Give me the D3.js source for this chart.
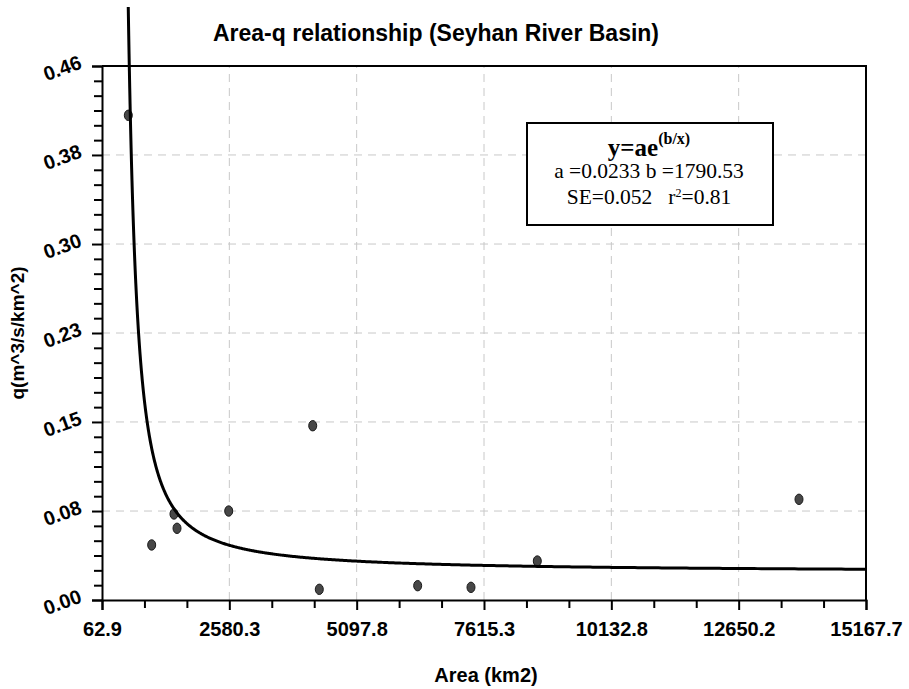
<!DOCTYPE html>
<html>
<head>
<meta charset="utf-8">
<script src="https://cdn.jsdelivr.net/npm/d3@7"></script>
<style>
  html, body { margin: 0; padding: 0; background: #ffffff; }
  svg { display: block; }
</style>
</head>
<body>
<svg id="chart" width="909" height="689"></svg>
<script>
// ---- data ----
const areas = [583, 1045, 1486, 1546, 2568, 4229, 4359, 6304, 7358, 8669, 13843];
const qValues = [0.413, 0.0469, 0.0733, 0.0611, 0.0758, 0.1485, 0.0091, 0.0122, 0.0108, 0.0332, 0.0858];

const xTickValues = [62.9, 2580.3, 5097.8, 7615.3, 10132.8, 12650.2, 15167.7];
const xTickLabels = ["62.9", "2580.3", "5097.8", "7615.3", "10132.8", "12650.2", "15167.7"];
const yTickValues = [0, 0.0758, 0.1517, 0.2275, 0.3033, 0.3792, 0.455];
const yTickLabels = ["0.00", "0.08", "0.15", "0.23", "0.30", "0.38", "0.46"];

// fitted model parameters (from the legend)
const fitA = 0.0233;
const fitB = 1790.53;

const titleText = "Area-q relationship (Seyhan River Basin)";
const xTitle = "Area (km2)";
const yTitle = "q(m^3/s/km^2)";

// ---- layout ----
const W = 909, H = 689;
const M = { left: 102, right: 43, top: 66, bottom: 89 };
const svg = d3.select("#chart");
svg.append("rect").attr("width", W).attr("height", H).attr("fill", "#fff");

const x = d3.scaleLinear().domain([xTickValues[0], xTickValues[xTickValues.length - 1]]).range([M.left, W - M.right]);
const y = d3.scaleLinear().domain([yTickValues[0], yTickValues[yTickValues.length - 1]]).range([H - M.bottom, M.top]);

const sans = "'Liberation Sans', Arial, sans-serif";
const serif = "'Liberation Serif', 'Times New Roman', serif";

// gridlines
const grid = svg.append("g").attr("stroke", "#c8c8c8").attr("stroke-width", 1).attr("stroke-dasharray", "8,6");
xTickValues.slice(1, -1).forEach(v => {
  grid.append("line").attr("x1", x(v)).attr("x2", x(v)).attr("y1", y.range()[0]).attr("y2", y.range()[1]);
});
yTickValues.slice(1, -1).forEach(v => {
  grid.append("line").attr("y1", y(v)).attr("y2", y(v)).attr("x1", x.range()[0]).attr("x2", x.range()[1]);
});

// minor tick values
const xMinor = [];
for (let i = 0; i < xTickValues.length - 1; i++) {
  const a = xTickValues[i], b = xTickValues[i + 1];
  for (let k = 1; k < 3; k++) xMinor.push(a + (b - a) * k / 3);
}
const yMinor = [];
for (let i = 0; i < yTickValues.length - 1; i++) {
  const a = yTickValues[i], b = yTickValues[i + 1];
  for (let k = 1; k < 6; k++) yMinor.push(a + (b - a) * k / 6);
}

// axes
const xAxis = d3.axisBottom(x).tickValues(xTickValues).tickFormat((d, i) => xTickLabels[i]).tickSizeOuter(0).tickSize(10).tickPadding(12);
const gx = svg.append("g").attr("transform", `translate(0,${y.range()[0]})`).call(xAxis);
gx.select(".domain").attr("stroke", "#000").attr("stroke-width", 2);
gx.selectAll(".tick line").attr("stroke", "#000").attr("stroke-width", 2);
gx.selectAll(".tick text").attr("font-family", sans).attr("font-weight", "bold").attr("font-size", 20).attr("fill", "#000");

const gxm = svg.append("g").attr("transform", `translate(0,${y.range()[0]})`)
  .call(d3.axisBottom(x).tickValues(xMinor).tickFormat("").tickSizeOuter(0).tickSize(8));
gxm.select(".domain").remove();
gxm.selectAll(".tick line").attr("stroke", "#000").attr("stroke-width", 2);

const yAxis = d3.axisLeft(y).tickValues(yTickValues).tickFormat("").tickSizeOuter(0).tickSize(10);
const gy = svg.append("g").attr("transform", `translate(${x.range()[0]},0)`).call(yAxis);
gy.select(".domain").attr("stroke", "#000").attr("stroke-width", 2);
gy.selectAll(".tick line").attr("stroke", "#000").attr("stroke-width", 2);

const gym = svg.append("g").attr("transform", `translate(${x.range()[0]},0)`)
  .call(d3.axisLeft(y).tickValues(yMinor).tickFormat("").tickSizeOuter(0).tickSize(8));
gym.select(".domain").remove();
gym.selectAll(".tick line").attr("stroke", "#000").attr("stroke-width", 2);

// slanted y tick labels
svg.append("g").selectAll("text").data(yTickValues).join("text")
  .attr("transform", (d) => `translate(${x.range()[0] - 19},${y(d) + 2}) rotate(-20)`)
  .attr("text-anchor", "end")
  .attr("font-family", sans).attr("font-weight", "bold").attr("font-size", 20).attr("fill", "#000")
  .text((d, i) => yTickLabels[i]);

// plot frame (top and right)
svg.append("path")
  .attr("d", `M${x.range()[0]},${y.range()[1]} H${x.range()[1]} V${y.range()[0]}`)
  .attr("fill", "none").attr("stroke", "#000").attr("stroke-width", 2);

// data points
svg.append("g").selectAll("ellipse").data(areas).join("ellipse")
  .attr("cx", (d) => x(d)).attr("cy", (d, i) => y(qValues[i]))
  .attr("rx", 4).attr("ry", 5.2)
  .attr("fill", "#474747").attr("stroke", "#1a1a1a").attr("stroke-width", 1);

// fitted curve y = a*exp(b/x), drawn from image top edge to right border
const fit = (v) => fitA * Math.exp(fitB / v);
const yTopVal = y.invert(7);
const xStart = fitB / Math.log(yTopVal / fitA);
const xEnd = x.domain()[1];
const curvePts = [];
const N = 600;
for (let i = 0; i <= N; i++) {
  const t = i / N;
  const v = xStart * Math.pow(xEnd / xStart, t);
  curvePts.push([v, fit(v)]);
}
svg.append("path").datum(curvePts)
  .attr("d", d3.line().x(d => x(d[0])).y(d => y(d[1])))
  .attr("fill", "none").attr("stroke", "#000").attr("stroke-width", 3);

// title
svg.append("text").attr("x", 436).attr("y", 41).attr("text-anchor", "middle")
  .attr("font-family", sans).attr("font-weight", "bold").attr("font-size", 23).attr("fill", "#000")
  .text(titleText);

// axis titles
svg.append("text").attr("x", 486).attr("y", 682).attr("text-anchor", "middle")
  .attr("font-family", sans).attr("font-weight", "bold").attr("font-size", 20).attr("fill", "#000")
  .text(xTitle);
svg.append("text").attr("transform", "translate(24,333) rotate(-90)").attr("text-anchor", "middle")
  .attr("font-family", sans).attr("font-weight", "bold").attr("font-size", 19).attr("fill", "#000")
  .text(yTitle);

// legend box
const lg = svg.append("g");
lg.append("rect").attr("x", 527).attr("y", 123).attr("width", 246).attr("height", 102)
  .attr("fill", "#fff").attr("stroke", "#000").attr("stroke-width", 2);
const l1 = lg.append("text").attr("x", 649).attr("y", 156).attr("text-anchor", "middle")
  .attr("font-family", serif).attr("font-weight", "bold").attr("font-size", 25).attr("fill", "#000");
l1.append("tspan").text("y=ae");
l1.append("tspan").attr("dy", -12).attr("font-size", 16).text("(b/x)");
lg.append("text").attr("x", 649).attr("y", 178).attr("text-anchor", "middle")
  .attr("font-family", serif).attr("font-size", 21.5).attr("fill", "#000")
  .text("a =0.0233 b =1790.53");
const l3 = lg.append("text").attr("x", 649).attr("y", 204).attr("text-anchor", "middle")
  .attr("font-family", serif).attr("font-size", 21.5).attr("fill", "#000");
l3.append("tspan").text("SE=0.052");
l3.append("tspan").attr("dx", 16).text("r");
l3.append("tspan").attr("dy", -7).attr("font-size", 12).text("2");
l3.append("tspan").attr("dy", 7).text("=0.81");
</script>
</body>
</html>
